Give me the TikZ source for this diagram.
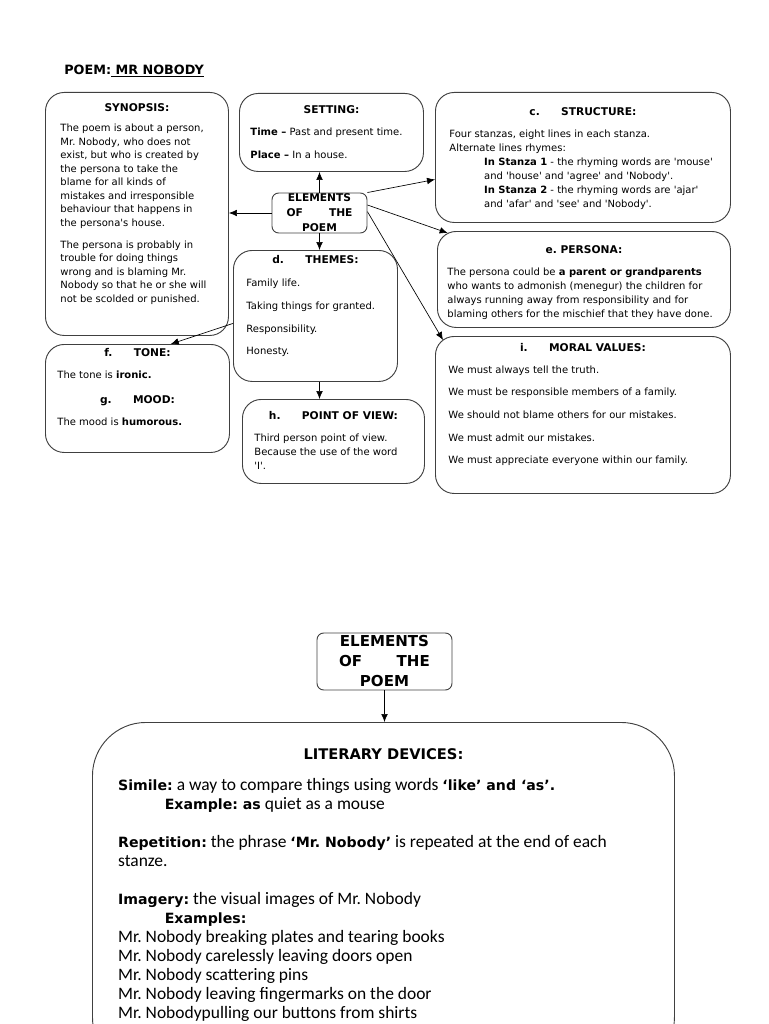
\documentclass[tikz,border=0pt]{standalone}
\usepackage{fontspec}
\setmainfont{DejaVu Sans}
\newfontfamily\calfont{Carlito}
\usetikzlibrary{arrows.meta}

\newcommand{\sq}{\textquotesingle}
\newcommand{\headfont}{\bfseries\fontsize{8}{10}\selectfont}
\newcommand{\bd}[1]{{\rmfamily\bfseries\fontsize{10.6}{14.25}\selectfont #1}}
\newcommand{\cardtext}[4]{\begin{minipage}[t][#2][t]{#1}\vspace*{#3}\raggedright #4\end{minipage}}

\begin{document}
\frenchspacing
\begin{tikzpicture}[x=0.75pt,y=-0.75pt,
  card/.style={draw=black!75, line width=0.7pt, rounded corners=14pt, inner sep=0pt, anchor=north west, font=\fontsize{7.5}{10.1}\selectfont},
  elembox/.style={draw=black!75, line width=0.7pt, rounded corners=5pt, inner sep=0pt, align=center},
  arr/.style={-{Latex[length=6pt,width=5pt]}, line width=0.5pt}]
\useasboundingbox (0,0) rectangle (768,1024);

\node[anchor=west, inner sep=0pt, font=\bfseries\fontsize{9.6}{11}\selectfont] (title) at (64,71) {POEM:\underline{ MR NOBODY}};

% top map
\node[elembox, minimum width=71.25pt, minimum height=30pt, text width=49.5pt, font=\bfseries\fontsize{8}{11.25}\selectfont] (elem) at (319.5,213) {ELEMENTS\\OF\hfill THE\\POEM};

\node[card, minimum width=137.25pt, minimum height=182.25pt] (syn) at (45,92) {\cardtext{114.75pt}{182.25pt}{8.5pt}{%
  {\centering\headfont SYNOPSIS:\par}\vspace{5pt}
  The poem is about a person,\\ Mr. Nobody, who does not\\ exist, but who is created by\\ the persona to take the\\ blame for all kinds of\\ mistakes and irresponsible\\ behaviour that happens in\\ the persona\sq s house.\par\vspace{6.6pt}
  The persona is probably in\\ trouble for doing things\\ wrong and is blaming Mr.\\ Nobody so that he or she will\\ not be scolded or punished.}};

\node[card, minimum width=138pt, minimum height=58.5pt] (set) at (239,93) {\cardtext{121.5pt}{58.5pt}{9.3pt}{%
  {\centering\headfont SETTING:\par}\vspace{6.5pt}
  \textbf{Time --} Past and present time.\par\vspace{6.9pt}
  \textbf{Place --} In a house.}};

\node[card, minimum width=221.25pt, minimum height=97.5pt, font=\fontsize{7.5}{10.5}\selectfont] (str) at (435,92) {\cardtext{200.25pt}{97.5pt}{11pt}{%
  {\centering\headfont c.\hspace{16pt}STRUCTURE:\par}\vspace{6pt}
  Four stanzas, eight lines in each stanza.\\ Alternate lines rhymes:\par
  \leftskip=26pt
  \textbf{In Stanza 1} - the rhyming words are \sq mouse\sq\\ and \sq house\sq{} and \sq agree\sq{} and \sq Nobody\sq.\\
  \textbf{In Stanza 2} - the rhyming words are \sq ajar\sq\\ and \sq afar\sq{} and \sq see\sq{} and \sq Nobody\sq.\par}};

\node[card, minimum width=219.75pt, minimum height=72pt, font=\fontsize{7.5}{10.5}\selectfont] (per) at (437,231) {\cardtext{204.75pt}{72pt}{10.8pt}{%
  {\centering\headfont e. PERSONA:\par}\vspace{6pt}
  The persona could be \textbf{a parent or grandparents}\\ who wants to admonish (menegur) the children for\\ always running away from responsibility and for\\ blaming others for the mischief that they have done.}};

\node[card, minimum width=123pt, minimum height=98.25pt] (thm) at (233,250) {\cardtext{103.5pt}{98.25pt}{4pt}{%
  {\centering\headfont d.\hspace{16pt}THEMES:\par}\vspace{7.2pt}
  Family life.\par\vspace{6.8pt}
  Taking things for granted.\par\vspace{6.8pt}
  Responsibility.\par\vspace{6.8pt}
  Honesty.}};

\node[card, minimum width=138pt, minimum height=81pt] (tone) at (45,344) {\cardtext{120pt}{81pt}{3pt}{%
  {\centering\headfont f.\hspace{16pt}TONE:\par}\vspace{6.5pt}
  The tone is \textbf{ironic.}\par\vspace{8.4pt}
  {\centering\headfont g.\hspace{16pt}MOOD:\par}\vspace{6.5pt}
  The mood is \textbf{humorous.}}};

\node[card, minimum width=136.5pt, minimum height=63pt, font=\fontsize{7.5}{10.5}\selectfont] (pov) at (242,399) {\cardtext{118.5pt}{63pt}{8.75pt}{%
  {\centering\headfont h.\hspace{16pt}POINT OF VIEW:\par}\vspace{6.1pt}
  Third person point of view.\\ Because the use of the word\\ \sq I\sq.}};

\node[card, minimum width=221.25pt, minimum height=117.75pt] (mor) at (435,336) {\cardtext{201.75pt}{117.75pt}{5.3pt}{%
  {\centering\headfont i.\hspace{16pt}MORAL VALUES:\par}\vspace{6.25pt}
  We must always tell the truth.\par\vspace{6.8pt}
  We must be responsible members of a family.\par\vspace{6.8pt}
  We should not blame others for our mistakes.\par\vspace{6.8pt}
  We must admit our mistakes.\par\vspace{6.8pt}
  We must appreciate everyone within our family.}};

\draw[arr] (elem.north) -- (elem.north |- set.south);
\draw[arr] (elem.west) -- (elem.west -| syn.east);
\draw[arr] (elem.north east) -- ([yshift=-16.5pt]str.west);
\draw[arr] ([yshift=6pt]elem.east) -- ([shift={(8pt,-1.5pt)}]per.north west);
\draw[arr] ([yshift=1pt]elem.east) -- ([shift={(6pt,-3pt)}]mor.north west);
\draw[arr] (elem.south) -- (elem.south |- thm.north);
\draw[arr] ([yshift=-5.6pt]thm.west) -- ([xshift=25pt]tone.north);
\draw[arr] (thm.south -| elem.south) -- (pov.north -| elem.south);

% literary devices
\node[elembox, minimum width=101.25pt, minimum height=42.75pt, text width=68pt, font=\bfseries\fontsize{11.3}{15}\selectfont] (elem2) at (384.5,661.5) {ELEMENTS\\OF\hfill THE\\POEM};

\node[card, rounded corners=40pt, minimum width=436.5pt, minimum height=261pt, font=\calfont\fontsize{13.1}{14.25}\selectfont] (lit) at (92,722) {\cardtext{398pt}{261pt}{19.3pt}{%
  {\centering\bd{\fontsize{11}{14.25}\selectfont LITERARY DEVICES:}\par}\vspace{9pt}
  \bd{Simile:} a way to compare things using words \bd{‘like’ and ‘as’.}\\
  \hspace*{35pt}\bd{Example: as} quiet as a mouse\par\vspace{14.25pt}
  \bd{Repetition:} the phrase \bd{‘Mr. Nobody’} is repeated at the end of each\\ stanze.\par\vspace{14.25pt}
  \bd{Imagery:} the visual images of Mr. Nobody\\
  \hspace*{35pt}\bd{Examples:}\\
  Mr. Nobody breaking plates and tearing books\\
  Mr. Nobody carelessly leaving doors open\\
  Mr. Nobody scattering pins\\
  Mr. Nobody leaving fingermarks on the door\\
  Mr. Nobodypulling our buttons from shirts}};

\draw[arr] (elem2.south) -- (elem2.south |- lit.north);
\end{tikzpicture}
\end{document}
